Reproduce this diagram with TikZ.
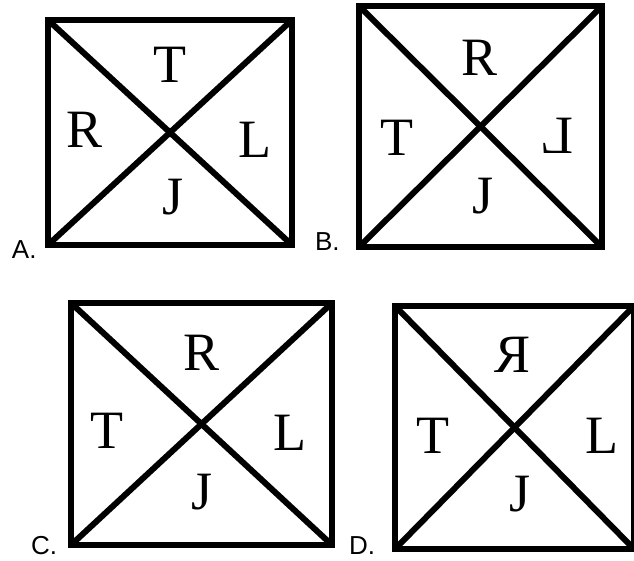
\documentclass[tikz,border=0pt]{standalone}
\usepackage{fontspec}
\setmainfont{Liberation Serif}
\newfontfamily\optfont{Liberation Sans}
\usetikzlibrary{positioning}

\begin{document}
\begin{tikzpicture}[x=1pt, y=-1pt, line width=6pt, line join=miter,
    panel/.style={draw, rectangle, inner sep=0pt, outer sep=0pt},
    glyph/.style={anchor=base, inner sep=0pt, font=\fontsize{54}{54}\selectfont},
    option/.style={anchor=base west, inner sep=0pt, font=\optfont\fontsize{26}{26}\selectfont}]

    \useasboundingbox (0,0) rectangle (634,560);

    % --- Panel A ---
    \node[panel, minimum width=244pt, minimum height=225pt] (boxA) at (170,132.5) {};
    \draw (boxA.north west) -- (boxA.south east);
    \draw (boxA.south west) -- (boxA.north east);
    \node[glyph] (aT) at (170,82) {T};
    \node[glyph] (aR) at (85,147) {R};
    \node[glyph] (aL) at (255,157) {L};
    \node[glyph] (aJ) at (173,214) {J};
    \node[option] (optA) at (9,258) {A.};

    % --- Panel B ---
    \node[panel, minimum width=243pt, minimum height=241pt] (boxB) at (480.5,126.5) {};
    \draw (boxB.north west) -- (boxB.south east);
    \draw (boxB.south west) -- (boxB.north east);
    \node[glyph] (bR) at (480,75) {R};
    \node[glyph] (bT) at (397,155) {T};
    \node[glyph] (bL) at (557,153) {\reflectbox{L}};
    \node[glyph] (bJ) at (483,213) {J};
    \node[option] (optB) at (312,250) {B.};

    % --- Panel C ---
    \node[panel, minimum width=261pt, minimum height=242pt] (boxC) at (201.5,424) {};
    \draw (boxC.north west) -- (boxC.south east);
    \draw (boxC.south west) -- (boxC.north east);
    \node[glyph] (cR) at (202,370) {R};
    \node[glyph] (cT) at (107,448) {T};
    \node[glyph] (cL) at (290,450) {L};
    \node[glyph] (cJ) at (202,509) {J};
    \node[option] (optC) at (28,554) {C.};

    % --- Panel D ---
    \node[panel, minimum width=239pt, minimum height=243pt] (boxD) at (514.5,427.5) {};
    \draw (boxD.north west) -- (boxD.south east);
    \draw (boxD.south west) -- (boxD.north east);
    \node[glyph] (dR) at (512,372) {\reflectbox{R}};
    \node[glyph] (dT) at (433,453) {T};
    \node[glyph] (dL) at (602,453) {L};
    \node[glyph] (dJ) at (520,511) {J};
    \node[option] (optD) at (346,554) {D.};

\end{tikzpicture}
\end{document}
